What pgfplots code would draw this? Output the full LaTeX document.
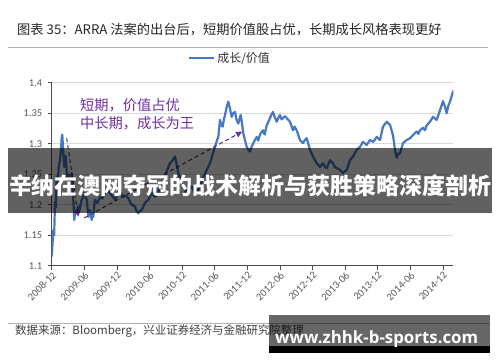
\documentclass[border=0pt]{standalone}
\usepackage{pgfplots}
\pgfplotsset{compat=1.18}
\usepackage{graphicx}
\usepackage{fontspec}
\usetikzlibrary{arrows.meta}
\setmainfont{Carlito}
\newfontfamily\cjk{Noto Sans CJK SC}
\newfontfamily\osans{Open Sans}
\definecolor{lineblue}{RGB}{70,120,195}
\definecolor{annpurple}{RGB}{112,48,160}
\definecolor{arrpurple}{RGB}{85,40,110}
\definecolor{ticktext}{RGB}{89,89,89}
\begin{document}
\begin{tikzpicture}
\path[use as bounding box] (0,0) rectangle (500bp,-362bp);
\fill[white] (0,0) rectangle (500bp,-362bp);
% title
\node[anchor=base west, inner sep=0pt, text=black!85] at (17bp,-34.5bp) {\cjk\fontsize{13.3}{15}\selectfont 图表 35：ARRA 法案的出台后，短期价值股占优，长期成长风格表现更好};
\draw[gray!60, line width=1bp] (8bp,-47bp) -- (488bp,-47bp);
\begin{axis}[
  at={(51.7bp,-265.7bp)}, anchor=south west,
  scale only axis, width=401.6bp, height=183bp,
  xmin=0, xmax=73.92, ymin=1.1, ymax=1.4,
  axis lines*=left,
  axis line style={black!70, line width=0.8bp},
  xtick={0,6,12,18,24,30,36,42,48,54,60,66,72},
  xticklabels={2008-12,2009-06,2009-12,2010-06,2010-12,2011-06,2011-12,2012-06,2012-12,2013-06,2013-12,2014-06,2014-12},
  ytick={1.1,1.15,1.2,1.25,1.3,1.35,1.4},
  yticklabels={1.1,1.15,1.2,1.25,1.3,1.35,1.4},
  ymajorgrids, grid style={draw=black!15, line width=0.8bp},
  tick align=outside, major tick length=4bp,
  tick style={black!70, line width=0.7bp},
  /pgf/number format/assume math mode=true,
  x tick label style={rotate=45, anchor=north east, font=\fontsize{10.5}{12}\selectfont, text=ticktext, inner sep=1bp},
  y tick label style={font=\fontsize{10.5}{12}\selectfont, text=ticktext, xshift=-2bp},
  legend style={draw=none, fill=none, inner sep=0pt, at={(0.3394,1.135)}, anchor=west,
    font=\cjk\fontsize{12}{14}\selectfont, text=black!80,
    /tikz/every even column/.append style={column sep=3bp}},
  legend image code/.code={\draw[#1] (0bp,0bp) -- (25bp,0bp);},
]
\addplot[lineblue, line width=2.2bp, line join=round] coordinates {
(0.00,1.115) (0.15,1.135) (0.29,1.158) (0.45,1.150) (0.61,1.205) (0.75,1.195) (0.92,1.246) (1.10,1.235) (1.30,1.262) (1.53,1.273) (1.70,1.290) (1.84,1.310) (1.95,1.315) (2.10,1.290) (2.32,1.262) (2.45,1.270) (2.58,1.280) (2.75,1.255) (2.94,1.240) (3.15,1.250) (3.37,1.230) (3.55,1.245) (3.68,1.252) (3.85,1.225) (3.98,1.208) (4.16,1.175) (4.35,1.190) (4.60,1.186) (4.90,1.197) (5.10,1.190) (5.30,1.200) (5.52,1.208) (5.75,1.212) (6.00,1.219) (6.20,1.214) (6.44,1.208) (6.60,1.195) (6.74,1.180) (6.90,1.188) (7.05,1.191) (7.20,1.182) (7.36,1.175) (7.50,1.183) (7.66,1.180) (7.80,1.195) (7.97,1.208) (8.40,1.203) (8.89,1.212) (9.30,1.210) (9.81,1.219) (10.40,1.222) (11.04,1.216) (11.35,1.212) (11.65,1.208) (12.00,1.214) (12.26,1.216) (12.70,1.220) (13.12,1.213) (13.60,1.215) (14.10,1.211) (14.40,1.205) (14.72,1.200) (15.00,1.199) (15.33,1.197) (15.60,1.190) (15.94,1.186) (16.25,1.190) (16.57,1.191) (16.90,1.198) (17.17,1.203) (17.50,1.206) (17.78,1.208) (18.10,1.214) (18.41,1.219) (18.70,1.216) (19.01,1.213) (19.50,1.218) (19.93,1.228) (20.40,1.240) (20.85,1.245) (21.30,1.258) (21.77,1.268) (22.20,1.272) (22.69,1.279) (23.00,1.266) (23.30,1.252) (23.80,1.240) (24.22,1.230) (24.50,1.224) (24.85,1.219) (25.30,1.226) (25.77,1.230) (26.20,1.222) (26.69,1.219) (27.00,1.225) (27.30,1.230) (27.90,1.245) (28.53,1.257) (29.14,1.268) (29.60,1.282) (30.06,1.295) (30.40,1.305) (30.66,1.311) (30.98,1.339) (31.20,1.330) (31.47,1.328) (31.70,1.340) (31.90,1.347) (32.20,1.360) (32.51,1.369) (32.80,1.358) (33.13,1.344) (33.40,1.350) (33.74,1.352) (34.00,1.340) (34.35,1.333) (34.60,1.342) (34.79,1.347) (35.00,1.335) (35.27,1.317) (35.60,1.305) (35.89,1.295) (36.20,1.290) (36.50,1.287) (36.80,1.295) (37.11,1.301) (37.40,1.306) (37.73,1.311) (38.00,1.305) (38.34,1.315) (38.89,1.322) (39.20,1.315) (39.57,1.330) (40.18,1.342) (40.45,1.348) (40.73,1.352) (41.00,1.345) (41.41,1.336) (41.70,1.342) (42.02,1.347) (42.30,1.340) (42.57,1.342) (42.90,1.345) (43.25,1.342) (43.86,1.336) (44.41,1.322) (44.70,1.328) (45.09,1.322) (45.70,1.306) (46.25,1.301) (46.60,1.306) (46.93,1.309) (47.54,1.290) (48.09,1.279) (48.78,1.268) (49.38,1.262) (49.94,1.268) (50.30,1.262) (50.62,1.260) (51.22,1.273) (51.78,1.268) (52.10,1.262) (52.46,1.260) (53.06,1.257) (53.62,1.252) (54.00,1.255) (54.30,1.257) (54.90,1.273) (55.46,1.279) (56.14,1.290) (56.75,1.295) (57.30,1.303) (57.98,1.298) (58.59,1.306) (59.19,1.303) (59.82,1.311) (60.43,1.306) (60.98,1.328) (61.66,1.336) (62.00,1.333) (62.27,1.331) (62.82,1.314) (63.19,1.290) (63.50,1.277) (63.80,1.284) (64.11,1.284) (64.66,1.301) (65.34,1.306) (65.95,1.309) (66.50,1.314) (67.18,1.320) (67.50,1.316) (67.79,1.322) (68.34,1.326) (68.70,1.322) (69.02,1.330) (69.63,1.336) (70.18,1.344) (70.86,1.339) (71.47,1.355) (72.02,1.370) (72.40,1.360) (72.70,1.350) (73.00,1.362) (73.31,1.369) (73.92,1.387)
};
\addlegendentry{成长/价值}
\draw[arrpurple, line width=1bp, dash pattern=on 4bp off 3bp, -{Triangle[length=6bp,width=6bp,color=annpurple]}] (axis cs:2.76,1.3089) -- (axis cs:4.90,1.1803);
\draw[arrpurple, line width=1bp, dash pattern=on 4bp off 3bp, -{Triangle[length=6bp,width=6bp,color=annpurple]}] (axis cs:5.95,1.1782) -- (axis cs:35.03,1.3197);
\end{axis}
% annotations
\node[anchor=base west, inner sep=0pt, text=annpurple] at (80bp,-110bp) {\cjk\fontsize{14.3}{16}\selectfont 短期，价值占优};
\node[anchor=base west, inner sep=0pt, text=annpurple] at (80bp,-128bp) {\cjk\fontsize{14.3}{16}\selectfont 中长期，成长为王};
% source
\draw[gray!60, line width=1bp] (8bp,-323bp) -- (490bp,-323bp);
\node[anchor=base west, inner sep=0pt, text=black!75] at (15bp,-334.5bp) {\cjk\fontsize{11.5}{13}\selectfont 数据来源：Bloomberg，兴业证券经济与金融研究院整理};
% banner overlay
\fill[black, opacity=0.62] (8bp,-148.3bp) rectangle (492bp,-213bp);
\node[anchor=base, inner sep=0pt, text=white] at (250bp,-194bp) {\resizebox{482bp}{!}{\cjk\bfseries\fontsize{24}{26}\selectfont 辛纳在澳网夺冠的战术解析与获胜策略深度剖析}};
% watermark
\fill[black, opacity=0.6] (269bp,-315bp) rectangle (490bp,-346bp);
\fill[black] (269bp,-346bp) rectangle (490bp,-353bp);
\node[anchor=base west, inner sep=0pt, text=white] at (275bp,-343bp) {\resizebox{203bp}{!}{\osans\bfseries\fontsize{17.5}{19}\selectfont www.zhhk-b-sports.com}};
\end{tikzpicture}
\end{document}
